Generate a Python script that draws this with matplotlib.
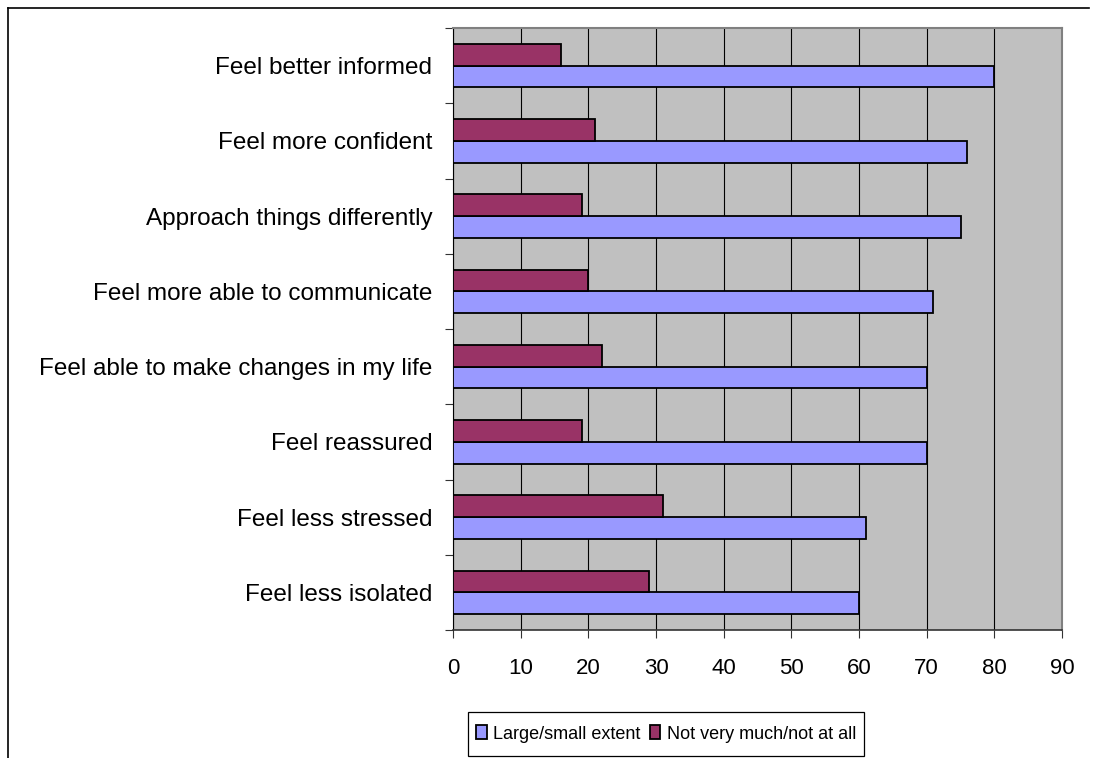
import numpy as np
import matplotlib
matplotlib.use("Agg")
import matplotlib.pyplot as plt
from matplotlib.lines import Line2D
from matplotlib.patches import Rectangle

plt.rcParams['font.family'] = ['Liberation Sans', 'DejaVu Sans']

# survey outcomes, listed top to bottom as shown
outcomes = ["Feel better informed", "Feel more confident", "Approach things differently",
            "Feel more able to communicate", "Feel able to make changes in my life",
            "Feel reassured", "Feel less stressed", "Feel less isolated"]
large_small = [80, 76, 75, 71, 70, 70, 61, 60]
not_much = [16, 21, 19, 20, 22, 19, 31, 29]
series_names = ["Large/small extent", "Not very much/not at all"]
xticks = [0, 10, 20, 30, 40, 50, 60, 70, 80, 90]

blue = "#9999FF"
maroon = "#993366"

fig = plt.figure(figsize=(10.98, 7.58), dpi=100)
ax = fig.add_axes([453/1098, 1 - 630/758, (1062 - 453)/1098, (630 - 28)/758])
ax.set_facecolor("#C0C0C0")

n = len(outcomes)
pos = np.arange(n)[::-1]  # first outcome at top
bh = 0.29
ax.barh(pos - bh/2, large_small, height=bh, color=blue, edgecolor="black",
        linewidth=1.3, zorder=3, label=series_names[0])
ax.barh(pos + bh/2, not_much, height=bh, color=maroon, edgecolor="black",
        linewidth=1.3, zorder=3, label=series_names[1])

ax.set_xlim(0, 90)
ax.set_ylim(-0.5, n - 0.5)
ax.set_xticks(xticks)
ax.set_xticklabels([str(t) for t in xticks], fontsize=16)
ax.xaxis.grid(True, color="black", linewidth=0.8, zorder=1)
ax.set_axisbelow(True)

# category labels centred, tick marks on category boundaries
ax.set_yticks(pos)
ax.set_yticklabels(outcomes, fontsize=17.5)
ax.tick_params(axis="y", which="major", length=0, pad=15)
ax.set_yticks(np.arange(-0.5, n, 1.0), minor=True)
ax.tick_params(axis="y", which="minor", length=6, width=0.8, color="#333333")
ax.tick_params(axis="x", length=6, width=0.8, color="#333333", pad=14)

for side in ["top", "right"]:
    ax.spines[side].set_color("#808080")
    ax.spines[side].set_linewidth(1.5)
ax.spines["left"].set_color("black")
ax.spines["bottom"].set_color("#333333")
ax.spines["bottom"].set_linewidth(1.2)

handles, labels = ax.get_legend_handles_labels()
fig.legend(handles, labels, loc="center", bbox_to_anchor=(666/1098, 1 - 734/758),
           ncol=2, fontsize=13, frameon=False, handlelength=0.6,
           handleheight=0.8, handletextpad=0.35, columnspacing=0.5)
# legend box
fig.add_artist(Rectangle((468/1098, 1 - 756/758), (864 - 468)/1098, 44/758,
                         transform=fig.transFigure, fill=False, edgecolor="black",
                         linewidth=0.9))

# chart border (left and top edges)
fig.add_artist(Line2D([8/1098, 8/1098], [0, 1 - 8/758], transform=fig.transFigure,
                      color="black", linewidth=1.2))
fig.add_artist(Line2D([8/1098, 1089/1098], [1 - 8/758, 1 - 8/758], transform=fig.transFigure,
                      color="black", linewidth=1.2))

fig.savefig("out.png", dpi=100)
